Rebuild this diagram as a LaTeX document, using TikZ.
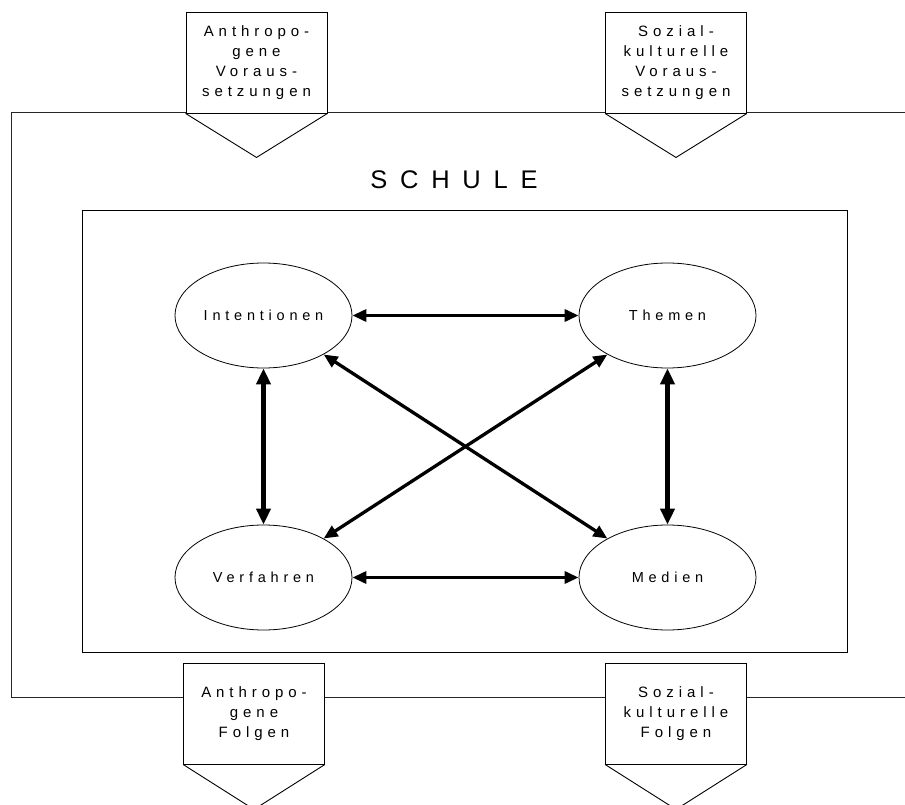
\documentclass[tikz,border=0pt]{standalone}
\usepackage{fontspec}
\setmainfont{Liberation Sans}
\newfontfamily\spacedfont[LetterSpace=33]{Liberation Sans}
\newfontfamily\headfont[LetterSpace=50]{Liberation Sans}
\usetikzlibrary{shapes.geometric,arrows.meta,calc}
\begin{document}
\begin{tikzpicture}[x=1pt,y=-1pt,
  frame/.style={draw=black!85,line width=1pt},
  inflow/.style={draw,fill=white,line width=0.9pt,minimum width=141pt,minimum height=101pt,
    inner sep=0pt,align=center,font=\spacedfont\fontsize{15}{20}\selectfont},
  wedge/.style={draw,line width=0.9pt},
  factor/.style={draw,ellipse,line width=0.8pt,minimum width=177pt,minimum height=105pt,
    inner sep=0pt,font=\spacedfont\fontsize{14.5}{16}\selectfont},
  link/.style={line width=3.3pt,{Triangle[length=14pt,width=12pt]}-{Triangle[length=14pt,width=12pt]}},
  vlink/.style={line width=4.5pt,{Triangle[length=16pt,width=14pt]}-{Triangle[length=16pt,width=14pt]}}
]
\useasboundingbox (0,0) rectangle (905,805);
\clip (0,0) rectangle (905,805);

% school frame, open to the right
\draw[frame] (905,113) -- (11,113) -- (11,697) -- (905,697);

% inner field of the didactic factors
\draw[line width=1pt] (82,211) rectangle (847,652);

\node[font=\headfont\fontsize{25.5}{30}\selectfont] (schule) at (454,180) {SCHULE};

% preconditions entering from above
\node[inflow] (av) at (256.5,62.5) {Anthropo-\\gene\\Voraus-\\setzungen};
\node[inflow] (sv) at (676,62.5) {Sozial-\\kulturelle\\Voraus-\\setzungen};
\draw[wedge] (av.south west) -- ($(av.south)+(0,44)$) -- (av.south east);
\draw[wedge] (sv.south west) -- ($(sv.south)+(0,44)$) -- (sv.south east);

% consequences leaving below
\node[inflow] (af) at (254,713.5) {Anthropo-\\gene\\Folgen};
\node[inflow] (sf) at (676,713.5) {Sozial-\\kulturelle\\Folgen};
\draw[wedge] (af.south west) -- ($(af.south)+(0,45)$) -- (af.south east);
\draw[wedge] (sf.south west) -- ($(sf.south)+(0,45)$) -- (sf.south east);

% the four factors
\node[factor] (int) at (263.5,315.5) {Intentionen};
\node[factor] (the) at (667.5,315.5) {Themen};
\node[factor] (ver) at (263.5,577.5) {Verfahren};
\node[factor] (med) at (667.5,577.5) {Medien};

% mutual dependencies
\draw[link] (int) -- (the);
\draw[link] (ver) -- (med);
\draw[vlink] (int) -- (ver);
\draw[vlink] (the) -- (med);
\draw[link] (int) -- (med);
\draw[link] (the) -- (ver);
\end{tikzpicture}
\end{document}
